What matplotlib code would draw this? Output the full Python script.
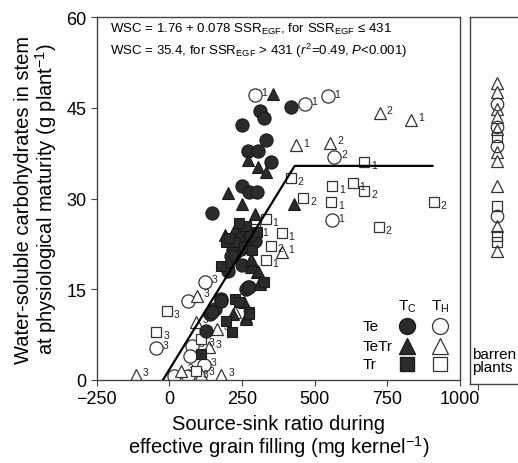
import matplotlib
matplotlib.use('Agg')
import matplotlib.pyplot as plt
import numpy as np

plt.rcParams['font.family'] = ['Liberation Sans', 'DejaVu Sans']
plt.rcParams['mathtext.fontset'] = 'custom'
plt.rcParams['mathtext.rm'] = 'Liberation Sans'
plt.rcParams['mathtext.it'] = 'Liberation Sans:italic'

# ---- data ----
# Te, T_C (filled circles)
te_c_x = [417, 310, 327, 248, 331, 269, 303, 348, 251, 275, 300, 145, 245, 245, 296, 260,
          280, 203, 269, 179, 158, 141, 176, 145, 265, 272, 124, 225, 235, 212, 250]
te_c_y = [45.1, 44.5, 43.3, 42.1, 39.7, 37.9, 37.9, 36.0, 32.1, 31.1, 31.1, 27.6, 23.3, 21.7, 23.0, 22.5,
          24.0, 18.0, 15.4, 13.4, 11.7, 10.9, 13.1, 11.2, 15.0, 15.4, 8.1, 21.0, 24.5, 20.5, 19.0]

# TeTr, T_C (filled triangles)
tetr_c_x = [355, 269, 303, 331, 203, 248, 296, 427, 227, 203, 279, 282, 220, 262, 300, 313,
            282, 306, 313, 255, 265, 240, 215, 190]
tetr_c_y = [47.3, 36.4, 35.2, 34.4, 30.9, 29.1, 27.4, 29.1, 25.0, 19.7, 19.7, 18.7, 10.9, 10.4, 17.8, 16.2,
            20.0, 18.0, 15.9, 12.9, 10.1, 24.0, 22.5, 24.0]

# Tr, T_C (filled squares)
tr_c_x = [196, 227, 179, 227, 272, 214, 238, 196, 110, 324, 272, 255, 285, 300, 265, 240, 205]
tr_c_y = [22.8, 22.8, 18.8, 13.4, 11.2, 7.9, 12.9, 9.8, 4.3, 16.2, 10.9, 22.0, 21.5, 24.5, 25.5, 26.0, 23.5]

# Te, T_H (open circles) with labels
te_h_x = [293, 465, 544, 568, 558, 121, 65, -48, 14, 65, 76, 72, 118]
te_h_y = [47.1, 45.6, 46.9, 36.9, 26.4, 16.2, 13.1, 5.3, 0.6, 0.6, 5.6, 4.0, 2.5]
te_h_lab = ['1', '1', '1', '2', '1', '3', '3', '3', '', '3', '3', '3', '3']

# TeTr, T_H (open triangles) with labels
tetr_h_x = [437, 554, 723, 833, 386, 93, -117, 110, 179, 90, 162, 227, 40, 135]
tetr_h_y = [38.8, 39.2, 44.1, 43.0, 21.2, 13.9, 0.8, 1.0, 0.8, 9.6, 8.4, 11.2, 1.5, 5.5]
tetr_h_lab = ['1', '2', '2', '1', '1', '3', '3', '3', '3', '3', '3', '3', '3', '3']

# Tr, T_H (open squares) with labels
tr_h_x = [671, 417, 561, 630, 671, 461, 557, 909, 720, 331, 386, 296, 348, 331, -10, -45, 110, 90]
tr_h_y = [36.0, 33.4, 32.1, 32.6, 31.2, 30.1, 29.4, 29.4, 25.3, 26.6, 24.3, 25.0, 22.2, 19.8, 11.4, 7.9, 6.8, 1.5]
tr_h_lab = ['1', '2', '1', '1', '2', '2', '1', '2', '2', '1', '1', '1', '2', '1', '3', '3', '3', '3']

# barren plants (right panel)
barren_tri_y = [49.1, 47.6, 44.8, 43.5, 41.5, 37.7, 36.2, 32.1, 25.5, 21.3]
barren_circ_y = [45.6, 41.8, 38.7, 27.1]
barren_sq_y = [40.2, 28.8, 23.8, 22.8]

# bilinear fit
fit_x = [-22.6, 431, 905]
fit_y = [0, 35.4, 35.4]

dark = '#2b2b2b'
edge = '#1a1a1a'
open_edge = '#333333'

fig = plt.figure(figsize=(5.18, 4.64), dpi=100)
ax = fig.add_axes([0.187, 0.179, 0.701, 0.782])
axr = fig.add_axes([0.907, 0.170, 0.12, 0.791])

ms = {'o': 9.5, '^': 9.0, 's': 7.8}


def draw_filled(x, y, mk):
    ax.plot(x, y, linestyle='none', marker=mk, ms=ms[mk], mfc=dark, mec=edge, mew=0.8, zorder=3)


def draw_open(x, y, labs, mk):
    ax.plot(x, y, linestyle='none', marker=mk, ms=ms[mk], mfc='white', mec=open_edge, mew=0.9, zorder=2)
    dy = -2 if mk == 's' else 2
    for xi, yi, lb in zip(x, y, labs):
        if lb:
            ax.annotate(lb, (xi, yi), xytext=(5, dy), textcoords='offset points',
                        fontsize=7.5, ha='left', va='center', color='#222222', zorder=2)


draw_open(te_h_x, te_h_y, te_h_lab, 'o')
draw_open(tetr_h_x, tetr_h_y, tetr_h_lab, '^')
draw_open(tr_h_x, tr_h_y, tr_h_lab, 's')
draw_filled(te_c_x, te_c_y, 'o')
draw_filled(tetr_c_x, tetr_c_y, '^')
draw_filled(tr_c_x, tr_c_y, 's')

ax.plot(fit_x, fit_y, color='black', lw=1.6, zorder=4)

ax.set_xlim(-250, 1000)
ax.set_ylim(0, 60)
ax.set_xticks([-250, 0, 250, 500, 750, 1000])
ax.set_yticks([0, 15, 30, 45, 60])
ax.tick_params(labelsize=13, length=4, direction='out', color='#444444')
for sp in ax.spines.values():
    sp.set_color('#444444')
    sp.set_linewidth(1.0)

ax.set_xlabel('Source-sink ratio during\neffective grain filling (mg kernel$^{-1}$)',
              fontsize=14.5, linespacing=1.0, labelpad=5)
ax.set_ylabel('Water-soluble carbohydrates in stem\nat physiological maturity (g plant$^{-1}$)',
              fontsize=14.5, linespacing=1.0, labelpad=5)

ax.text(0.036, 0.970, r'WSC = 1.76 + 0.078 SSR$_{\rm EGF}$, for SSR$_{\rm EGF}$ ≤ 431',
        transform=ax.transAxes, fontsize=9.5, va='center', ha='left')
ax.text(0.036, 0.909, r'WSC = 35.4, for SSR$_{\rm EGF}$ > 431 ($r^2$=0.49, $P$<0.001)',
        transform=ax.transAxes, fontsize=9.5, va='center', ha='left')

# legend table
lx = [0.854, 0.945]
ly = [0.149, 0.094, 0.044]
ax.text(lx[0], 0.205, r'T$_{\rm C}$', transform=ax.transAxes, fontsize=11, ha='center', va='center')
ax.text(lx[1], 0.205, r'T$_{\rm H}$', transform=ax.transAxes, fontsize=11, ha='center', va='center')
for yy, name, mk in zip(ly, ['Te', 'TeTr', 'Tr'], ['o', '^', 's']):
    ax.text(0.733, yy, name, transform=ax.transAxes, fontsize=11, ha='left', va='center')
    ax.plot([lx[0]], [yy], transform=ax.transAxes, marker=mk, ms=ms[mk] + 2, mfc=dark, mec=edge,
            linestyle='none', clip_on=False)
    ax.plot([lx[1]], [yy], transform=ax.transAxes, marker=mk, ms=ms[mk] + 2, mfc='white', mec=open_edge,
            mew=0.9, linestyle='none', clip_on=False)

# right panel: barren plants
axr.plot(np.zeros(len(barren_tri_y)), barren_tri_y, linestyle='none', marker='^', ms=9,
         mfc='white', mec=open_edge, mew=0.9)
axr.plot(np.zeros(len(barren_circ_y)), barren_circ_y, linestyle='none', marker='o', ms=9,
         mfc='none', mec=open_edge, mew=0.9)
axr.plot(np.zeros(len(barren_sq_y)), barren_sq_y, linestyle='none', marker='s', ms=7.8,
         mfc='none', mec=open_edge, mew=0.9)
axr.set_xlim(-1.0, 1.3)
axr.set_ylim(-0.6, 60)
axr.set_xticks([-0.7])
axr.set_xticklabels([])
axr.set_yticks([])
axr.tick_params(length=4, color='#444444')
for sp in axr.spines.values():
    sp.set_color('#444444')
    sp.set_linewidth(1.0)
axr.text(0.03, 0.065, 'barren\nplants', transform=axr.transAxes, fontsize=11,
         ha='left', va='center', linespacing=0.9)

fig.savefig('out.png', dpi=100)
